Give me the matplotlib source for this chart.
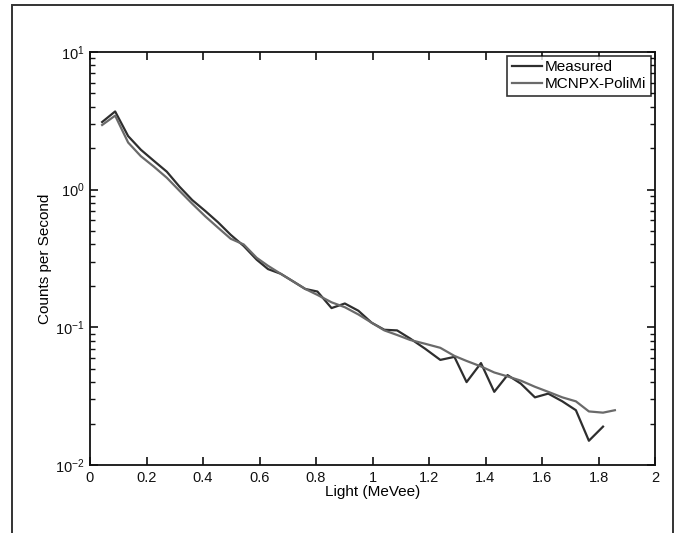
import matplotlib
matplotlib.use("Agg")
import matplotlib.pyplot as plt
from matplotlib.patches import Rectangle
from matplotlib.ticker import LogLocator, FixedLocator

plt.rcParams['font.family'] = ['Liberation Sans', 'DejaVu Sans']
plt.rcParams['mathtext.fontset'] = 'custom'
plt.rcParams['mathtext.rm'] = 'Liberation Sans'
plt.rcParams['mathtext.it'] = 'Liberation Sans'

# ---- data ----
light_measured = [0.043, 0.089, 0.135, 0.18, 0.226, 0.272, 0.317, 0.362, 0.408, 0.453,
                  0.498, 0.544, 0.59, 0.63, 0.675, 0.72, 0.762, 0.805, 0.855, 0.902,
                  0.95, 0.997, 1.042, 1.087, 1.133, 1.186, 1.24, 1.29, 1.333, 1.384,
                  1.431, 1.478, 1.525, 1.575, 1.622, 1.672, 1.72, 1.766, 1.816]
counts_measured = [3.1, 3.7, 2.45, 1.95, 1.62, 1.35, 1.05, 0.84, 0.70, 0.58,
                   0.47, 0.39, 0.31, 0.265, 0.245, 0.215, 0.19, 0.182, 0.138, 0.149,
                   0.132, 0.108, 0.096, 0.095, 0.083, 0.070, 0.058, 0.061, 0.040, 0.055,
                   0.034, 0.045, 0.039, 0.031, 0.033, 0.029, 0.025, 0.015, 0.019]

light_sim = [0.043, 0.089, 0.135, 0.18, 0.226, 0.272, 0.317, 0.362, 0.408, 0.453,
             0.498, 0.544, 0.59, 0.63, 0.675, 0.72, 0.762, 0.805, 0.855, 0.902,
             0.95, 0.997, 1.042, 1.087, 1.133, 1.186, 1.24, 1.29, 1.333, 1.384,
             1.431, 1.478, 1.525, 1.575, 1.622, 1.672, 1.72, 1.766, 1.816, 1.858]
counts_sim = [2.95, 3.45, 2.2, 1.75, 1.47, 1.22, 0.98, 0.79, 0.64, 0.53,
              0.44, 0.40, 0.32, 0.28, 0.245, 0.215, 0.19, 0.172, 0.152, 0.14,
              0.124, 0.108, 0.095, 0.088, 0.081, 0.076, 0.071, 0.062, 0.057, 0.052,
              0.047, 0.044, 0.041, 0.037, 0.034, 0.031, 0.029, 0.0245, 0.024, 0.025]

x_ticks = [0, 0.2, 0.4, 0.6, 0.8, 1, 1.2, 1.4, 1.6, 1.8, 2]
x_tick_labels = ['0', '0.2', '0.4', '0.6', '0.8', '1', '1.2', '1.4', '1.6', '1.8', '2']
y_ticks = [1e-2, 1e-1, 1e0, 1e1]
y_tick_labels = [r'$10^{-2}$', r'$10^{-1}$', r'$10^{0}$', r'$10^{1}$']

W, H = 677, 533
fig = plt.figure(figsize=(W / 100, H / 100), dpi=100)
fig.patch.set_facecolor('white')

# outer frame
fig.patches.append(Rectangle((12 / W, -0.02), (673 - 12) / W, 1 - 5 / H + 0.02,
                             transform=fig.transFigure, fill=False,
                             edgecolor='#333333', linewidth=1.4, zorder=0))

ax = fig.add_axes([90 / W, (H - 465) / H, (655 - 90) / W, (465 - 52) / H])
ax.plot(light_measured, counts_measured, color='#2e2e2e', linewidth=1.6, label='Measured')
ax.plot(light_sim, counts_sim, color='#6a6a6a', linewidth=1.6, label='MCNPX-PoliMi')

ax.set_yscale('log')
ax.set_xlim(0, 2)
ax.set_ylim(1e-2, 1e1)
ax.xaxis.set_major_locator(FixedLocator(x_ticks))
ax.set_xticklabels(x_tick_labels)
ax.yaxis.set_major_locator(FixedLocator(y_ticks))
ax.set_yticklabels(y_tick_labels)
ax.yaxis.set_minor_locator(LogLocator(base=10, subs=range(2, 10)))
ax.yaxis.set_minor_formatter(plt.NullFormatter())

ax.tick_params(which='both', direction='in', top=True, right=True, labelsize=10.5,
               colors='#111111', pad=4)
ax.tick_params(which='major', length=6, width=1.2)
ax.tick_params(which='minor', length=3.5, width=1.0)
for s in ax.spines.values():
    s.set_linewidth(1.3)
    s.set_color('#111111')

ax.set_xlabel('Light (MeVee)', fontsize=11, labelpad=0)
ax.set_ylabel('Counts per Second', fontsize=11, labelpad=2)

leg = ax.legend(loc='upper right', fontsize=11, frameon=True, fancybox=False,
                edgecolor='black', handlelength=2.0, handletextpad=0.2,
                borderpad=0.3, labelspacing=0.2, borderaxespad=0.25)
leg.get_frame().set_linewidth(1.2)

fig.savefig('out.png', dpi=100)
